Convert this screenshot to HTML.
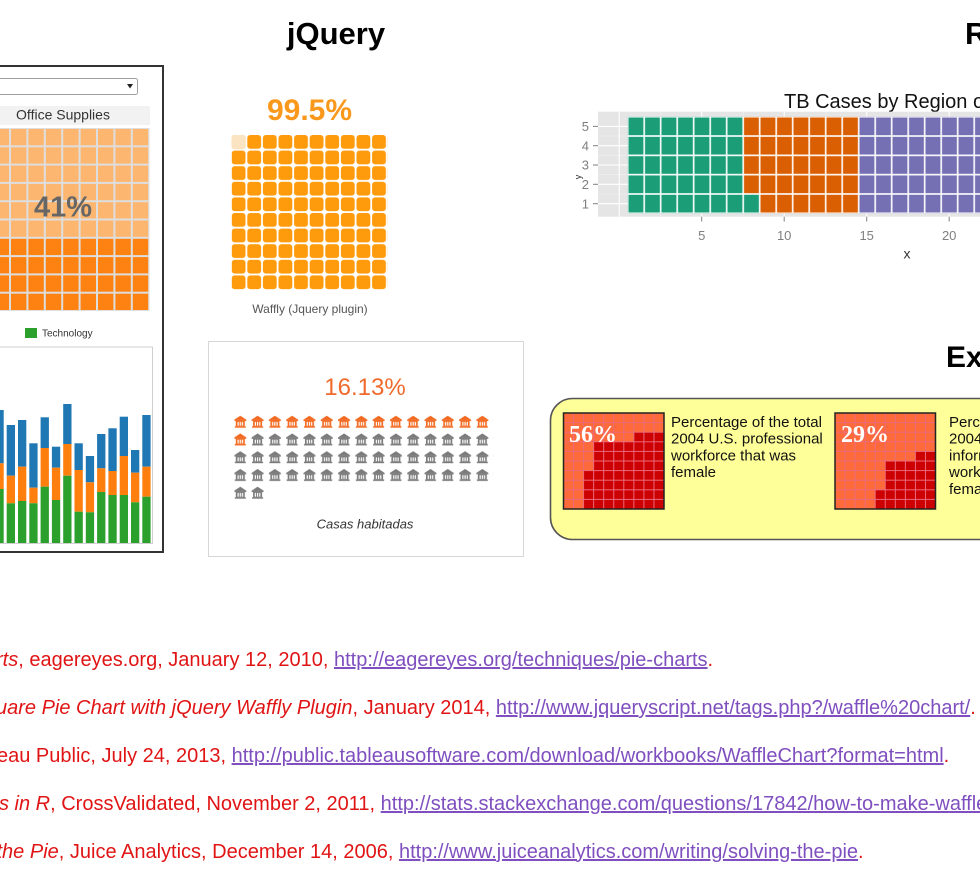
<!DOCTYPE html>
<html>
<head>
<meta charset="utf-8">
<style>
html,body{margin:0;padding:0;background:#fff;}
body{width:980px;height:893px;overflow:hidden;position:relative;font-family:"Liberation Sans",Arial,sans-serif;}
svg{position:absolute;left:0;top:0;}
.ref{position:absolute;white-space:nowrap;font-size:20px;line-height:20px;color:#e01414;}
.ref i{font-style:italic;}
.ref a{color:#7f4fbf;text-decoration:underline;}
</style>
</head>
<body>
<svg width="980" height="893" viewBox="0 0 980 893" font-family="'Liberation Sans', Arial, sans-serif">
<defs>
  <pattern id="tw" patternUnits="userSpaceOnUse" x="-7.4" y="128" width="17.4" height="18.3">
    <rect width="17.4" height="18.3" fill="none" stroke="#dedede" stroke-width="2"/>
  </pattern>
  <pattern id="jw" patternUnits="userSpaceOnUse" x="231.7" y="135" width="15.6" height="15.6">
    <rect width="13.8" height="13.8" rx="3" fill="#fd9b0c"/>
  </pattern>
  <pattern id="hO" patternUnits="userSpaceOnUse" x="234.3" y="415.7" width="17.29" height="17.75">
    <g fill="#f26a22">
      <path d="M6 0 L12 4 L0 4 Z"/>
      <rect x="0" y="4" width="12" height="1.4"/>
      <rect x="1.5" y="5.4" width="9" height="5.2"/>
      <rect x="0.5" y="10.5" width="11" height="1.5"/>
    </g>
    <g fill="#fff">
      <rect x="3.2" y="6.2" width="1.2" height="3.8"/>
      <rect x="5.4" y="6.2" width="1.2" height="3.8"/>
      <rect x="7.6" y="6.2" width="1.2" height="3.8"/>
    </g>
  </pattern>
  <pattern id="hG" patternUnits="userSpaceOnUse" x="234.3" y="415.7" width="17.29" height="17.75">
    <g fill="#7b7b7b">
      <path d="M6 0 L12 4 L0 4 Z"/>
      <rect x="0" y="4" width="12" height="1.4"/>
      <rect x="1.5" y="5.4" width="9" height="5.2"/>
      <rect x="0.5" y="10.5" width="11" height="1.5"/>
    </g>
    <g fill="#fff">
      <rect x="3.2" y="6.2" width="1.2" height="3.8"/>
      <rect x="5.4" y="6.2" width="1.2" height="3.8"/>
      <rect x="7.6" y="6.2" width="1.2" height="3.8"/>
    </g>
  </pattern>
  <pattern id="rt" patternUnits="userSpaceOnUse" x="627.7" y="116.7" width="16.5" height="19.32">
    <rect width="16.5" height="19.32" fill="none" stroke="#ffffff" stroke-width="1.6"/>
  </pattern>
  <pattern id="eg1" patternUnits="userSpaceOnUse" x="563.5" y="413" width="10.05" height="9.6">
    <rect width="10.05" height="9.6" fill="none" stroke="#ea6a7c" stroke-width="1"/>
  </pattern>
  <pattern id="eg2" patternUnits="userSpaceOnUse" x="835" y="413" width="10.05" height="9.6">
    <rect width="10.05" height="9.6" fill="none" stroke="#ea6a7c" stroke-width="1"/>
  </pattern>
</defs>

<!-- Headings -->
<text x="336" y="44" font-size="31" font-weight="bold" text-anchor="middle" fill="#000">jQuery</text>
<text x="965" y="44" font-size="31" font-weight="bold" fill="#000">R</text>
<text x="946" y="367" font-size="30" font-weight="bold" fill="#000">Excel</text>

<!-- ===== Tableau panel ===== -->
<rect x="-10" y="66" width="173" height="486" fill="#fff" stroke="#333" stroke-width="2"/>
<rect x="-10" y="78.5" width="147.5" height="16" rx="2" fill="#fff" stroke="#a0a0a0" stroke-width="1"/>
<polygon points="127,84 133,84 130,88.5" fill="#222"/>
<rect x="0" y="106" width="150" height="19" fill="#f2f2f2"/>
<text x="63" y="119.5" font-size="14" text-anchor="middle" fill="#333">Office Supplies</text>
<rect x="-8" y="128" width="157.5" height="110" fill="#fdb66f"/>
<rect x="-8" y="237.8" width="157.5" height="73.2" fill="#fd8211"/>
<rect x="-8" y="128" width="157.5" height="183" fill="url(#tw)"/>
<text x="63" y="216.5" font-size="29" font-weight="bold" text-anchor="middle" fill="#666">41%</text>
<rect x="25" y="328" width="12" height="10" fill="#2ca02c"/>
<text x="42" y="336.5" font-size="10" fill="#333">Technology</text>
<rect x="-5" y="347" width="157.5" height="196.5" fill="#fff" stroke="#cfcfcf" stroke-width="1"/>
<g>
  <rect x="-4.6" y="410" width="8.3" height="53.3" fill="#1f77b4"/><rect x="-4.6" y="463.3" width="8.3" height="25.7" fill="#ff7f0e"/><rect x="-4.6" y="489" width="8.3" height="54" fill="#2ca02c"/>
  <rect x="6.7" y="425" width="8.3" height="50.7" fill="#1f77b4"/><rect x="6.7" y="475.7" width="8.3" height="27.6" fill="#ff7f0e"/><rect x="6.7" y="503.3" width="8.3" height="39.7" fill="#2ca02c"/>
  <rect x="18" y="420" width="8.3" height="46.7" fill="#1f77b4"/><rect x="18" y="466.7" width="8.3" height="34.3" fill="#ff7f0e"/><rect x="18" y="501" width="8.3" height="42" fill="#2ca02c"/>
  <rect x="29.3" y="443.3" width="8.3" height="44.4" fill="#1f77b4"/><rect x="29.3" y="487.7" width="8.3" height="15.6" fill="#ff7f0e"/><rect x="29.3" y="503.3" width="8.3" height="39.7" fill="#2ca02c"/>
  <rect x="40.6" y="417.3" width="8.3" height="30.7" fill="#1f77b4"/><rect x="40.6" y="448" width="8.3" height="38.7" fill="#ff7f0e"/><rect x="40.6" y="486.7" width="8.3" height="56.3" fill="#2ca02c"/>
  <rect x="51.9" y="446.7" width="8.3" height="21" fill="#1f77b4"/><rect x="51.9" y="467.7" width="8.3" height="32.3" fill="#ff7f0e"/><rect x="51.9" y="500" width="8.3" height="43" fill="#2ca02c"/>
  <rect x="63.2" y="404" width="8.3" height="40" fill="#1f77b4"/><rect x="63.2" y="444" width="8.3" height="31.7" fill="#ff7f0e"/><rect x="63.2" y="475.7" width="8.3" height="67.3" fill="#2ca02c"/>
  <rect x="74.5" y="443.3" width="8.3" height="26.7" fill="#1f77b4"/><rect x="74.5" y="470" width="8.3" height="41.7" fill="#ff7f0e"/><rect x="74.5" y="511.7" width="8.3" height="31.3" fill="#2ca02c"/>
  <rect x="85.8" y="456" width="8.3" height="26.3" fill="#1f77b4"/><rect x="85.8" y="482.3" width="8.3" height="30" fill="#ff7f0e"/><rect x="85.8" y="512.3" width="8.3" height="30.7" fill="#2ca02c"/>
  <rect x="97.1" y="434" width="8.3" height="34.3" fill="#1f77b4"/><rect x="97.1" y="468.3" width="8.3" height="23.7" fill="#ff7f0e"/><rect x="97.1" y="492" width="8.3" height="51" fill="#2ca02c"/>
  <rect x="108.4" y="428.3" width="8.3" height="42.7" fill="#1f77b4"/><rect x="108.4" y="471" width="8.3" height="24" fill="#ff7f0e"/><rect x="108.4" y="495" width="8.3" height="48" fill="#2ca02c"/>
  <rect x="119.7" y="416.7" width="8.3" height="39.3" fill="#1f77b4"/><rect x="119.7" y="456" width="8.3" height="39" fill="#ff7f0e"/><rect x="119.7" y="495" width="8.3" height="48" fill="#2ca02c"/>
  <rect x="131" y="450" width="8.3" height="22.7" fill="#1f77b4"/><rect x="131" y="472.7" width="8.3" height="29.6" fill="#ff7f0e"/><rect x="131" y="502.3" width="8.3" height="40.7" fill="#2ca02c"/>
  <rect x="142.3" y="415" width="8.3" height="51.7" fill="#1f77b4"/><rect x="142.3" y="466.7" width="8.3" height="30" fill="#ff7f0e"/><rect x="142.3" y="496.7" width="8.3" height="46.3" fill="#2ca02c"/>
</g>

<!-- ===== jQuery Waffly ===== -->
<text x="309.5" y="120" font-size="30" font-weight="bold" text-anchor="middle" fill="#f9981b">99.5%</text>
<rect x="231.7" y="135" width="156" height="156" fill="url(#jw)"/>
<rect x="231.7" y="135" width="13.8" height="13.8" rx="3" fill="#fbe4c2"/>
<text x="310" y="313" font-size="12" text-anchor="middle" fill="#555">Waffly (Jquery plugin)</text>

<!-- Casas habitadas -->
<rect x="208.5" y="341.5" width="315" height="215" fill="#fff" stroke="#d6d6d6" stroke-width="1"/>
<text x="365" y="395" font-size="24" text-anchor="middle" fill="#ef6a2c">16.13%</text>
<rect x="234.3" y="415.7" width="259.35" height="17.75" fill="url(#hO)"/>
<rect x="234.3" y="433.45" width="17.29" height="17.75" fill="url(#hO)"/>
<rect x="251.59" y="433.45" width="242.06" height="17.75" fill="url(#hG)"/>
<rect x="234.3" y="451.2" width="259.35" height="35.5" fill="url(#hG)"/>
<rect x="234.3" y="486.7" width="34.58" height="17.75" fill="url(#hG)"/>
<text x="365" y="528.5" font-size="13" font-style="italic" text-anchor="middle" fill="#333">Casas habitadas</text>

<!-- ===== R ggplot waffle ===== -->
<text x="784" y="108" font-size="20" fill="#111">TB Cases by Region of Origin</text>
<rect x="598" y="111.7" width="400" height="105" fill="#e5e5e5"/>
<g stroke="#f2f2f2" stroke-width="0.6">
  <line x1="598" y1="136" x2="980" y2="136"/><line x1="598" y1="155.3" x2="980" y2="155.3"/>
  <line x1="598" y1="174.7" x2="980" y2="174.7"/><line x1="598" y1="194" x2="980" y2="194"/>
  <line x1="660.9" y1="111.7" x2="660.9" y2="216.7"/><line x1="743.4" y1="111.7" x2="743.4" y2="216.7"/>
  <line x1="825.9" y1="111.7" x2="825.9" y2="216.7"/><line x1="908.4" y1="111.7" x2="908.4" y2="216.7"/>
</g>
<g stroke="#fff" stroke-width="1.1">
  <line x1="598" y1="126.4" x2="980" y2="126.4"/><line x1="598" y1="145.7" x2="980" y2="145.7"/>
  <line x1="598" y1="165" x2="980" y2="165"/><line x1="598" y1="184.3" x2="980" y2="184.3"/>
  <line x1="598" y1="203.7" x2="980" y2="203.7"/>
  <line x1="619.2" y1="111.7" x2="619.2" y2="216.7"/><line x1="701.7" y1="111.7" x2="701.7" y2="216.7"/>
  <line x1="784.2" y1="111.7" x2="784.2" y2="216.7"/><line x1="866.7" y1="111.7" x2="866.7" y2="216.7"/>
  <line x1="949.2" y1="111.7" x2="949.2" y2="216.7"/>
</g>
<rect x="627.7" y="116.7" width="115.5" height="96.6" fill="#1b9e77"/>
<rect x="743.2" y="194" width="16.5" height="19.3" fill="#1b9e77"/>
<rect x="743.2" y="116.7" width="16.5" height="77.3" fill="#d95f02"/>
<rect x="759.7" y="116.7" width="99" height="96.6" fill="#d95f02"/>
<rect x="858.7" y="116.7" width="200" height="96.6" fill="#7570b3"/>
<rect x="627.7" y="116.7" width="400" height="96.6" fill="url(#rt)"/>
<g font-size="13" fill="#7f7f7f" text-anchor="end">
  <text x="589" y="131">5</text><text x="589" y="150.5">4</text><text x="589" y="169.5">3</text>
  <text x="589" y="189">2</text><text x="589" y="208.3">1</text>
</g>
<g stroke="#7f7f7f" stroke-width="1">
  <line x1="593" y1="126.4" x2="598" y2="126.4"/><line x1="593" y1="145.7" x2="598" y2="145.7"/>
  <line x1="593" y1="165" x2="598" y2="165"/><line x1="593" y1="184.3" x2="598" y2="184.3"/>
  <line x1="593" y1="203.7" x2="598" y2="203.7"/>
  <line x1="701.7" y1="216.7" x2="701.7" y2="221.5"/><line x1="784.2" y1="216.7" x2="784.2" y2="221.5"/>
  <line x1="866.7" y1="216.7" x2="866.7" y2="221.5"/><line x1="949.2" y1="216.7" x2="949.2" y2="221.5"/>
</g>
<g font-size="13" fill="#7f7f7f" text-anchor="middle">
  <text x="701.7" y="240">5</text><text x="784.2" y="240">10</text>
  <text x="866.7" y="240">15</text><text x="949.2" y="240">20</text>
</g>
<text x="907" y="258.5" font-size="14" text-anchor="middle" fill="#333">x</text>
<text x="0" y="0" font-size="9" fill="#333" text-anchor="middle" transform="translate(581,177) rotate(-90)">y</text>

<!-- ===== Excel ===== -->
<rect x="550.5" y="398.5" width="470" height="141" rx="22" fill="#ffff99" stroke="#555" stroke-width="1.6"/>
<rect x="563.5" y="413" width="100.5" height="96" fill="#ff6a3a"/>
<polygon points="633.85,432.2 664,432.2 664,509 583.6,509 583.6,470.6 593.65,470.6 593.65,441.8 633.85,441.8" fill="#cc0000"/>
<rect x="563.5" y="413" width="100.5" height="96" fill="url(#eg1)"/>
<rect x="563.5" y="413" width="100.5" height="96" fill="none" stroke="#222" stroke-width="1.5"/>
<text x="569" y="442" font-family="'Liberation Serif', 'Times New Roman', serif" font-size="24" font-weight="bold" fill="#fff">56%</text>
<g font-size="15" fill="#111">
  <text x="671" y="427">Percentage of the total</text>
  <text x="671" y="443.7">2004 U.S. professional</text>
  <text x="671" y="460.4">workforce that was</text>
  <text x="671" y="477.1">female</text>
</g>

<rect x="835" y="413" width="100.5" height="96" fill="#ff6a3a"/>
<polygon points="915.4,451.4 935.5,451.4 935.5,509 875.2,509 875.2,489.8 885.25,489.8 885.25,461 915.4,461" fill="#cc0000"/>
<rect x="835" y="413" width="100.5" height="96" fill="url(#eg2)"/>
<rect x="835" y="413" width="100.5" height="96" fill="none" stroke="#222" stroke-width="1.5"/>
<text x="841" y="442" font-family="'Liberation Serif', 'Times New Roman', serif" font-size="24" font-weight="bold" fill="#fff">29%</text>
<g font-size="15" fill="#111">
  <text x="949" y="427">Percentage of the total</text>
  <text x="949" y="443.7">2004 U.S.</text>
  <text x="949" y="460.4">information technology</text>
  <text x="949" y="477.1">workforce that was</text>
  <text x="949" y="493.8">female</text>
</g>
</svg>

<!-- References -->
<div class="ref" style="left:-4px;top:650px;"><i>rts</i>, eagereyes.org, January 12, 2010, <a>http://eagereyes.org/techniques/pie-charts</a>.</div>
<div class="ref" style="left:-4px;top:698px;"><i>uare Pie Chart with jQuery Waffly Plugin</i>, January 2014, <a>http://www.jqueryscript.net/tags.php?/waffle%20chart/</a>.</div>
<div class="ref" style="left:-3px;top:746px;">eau Public, July 24, 2013, <a>http://public.tableausoftware.com/download/workbooks/WaffleChart?format=html</a>.</div>
<div class="ref" style="left:-1px;top:794px;"><i>s in R</i>, CrossValidated, November 2, 2011, <a>http://stats.stackexchange.com/questions/17842/how-to-make-waffle-charts-in-r</a>.</div>
<div class="ref" style="left:-3.5px;top:841.5px;"><i>the Pie</i>, Juice Analytics, December 14, 2006, <a>http://www.juiceanalytics.com/writing/solving-the-pie</a>.</div>
</body>
</html>
